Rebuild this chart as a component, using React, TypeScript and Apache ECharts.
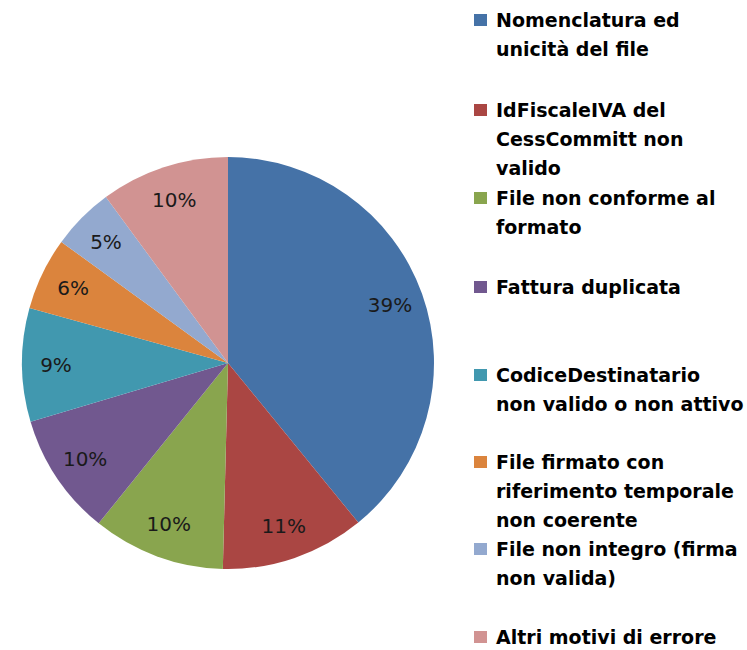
import React, { useEffect, useRef } from "react";
import * as echarts from "echarts";

const categories = [
  "Nomenclatura ed unicità del file",
  "IdFiscaleIVA del CessCommitt non valido",
  "File non conforme al formato",
  "Fattura duplicata",
  "CodiceDestinatario non valido o non attivo",
  "File firmato con riferimento temporale non coerente",
  "File non integro (firma non valida)",
  "Altri motivi di errore",
];

const legendLines = [
  ["Nomenclatura ed", "unicità del file"],
  ["IdFiscaleIVA del", "CessCommitt non", "valido"],
  ["File non conforme al", "formato"],
  ["Fattura duplicata"],
  ["CodiceDestinatario", "non valido o non attivo"],
  ["File firmato con", "riferimento temporale", "non coerente"],
  ["File non integro (firma", "non valida)"],
  ["Altri motivi di errore"],
];

const values = [39.1, 11.3, 10.4, 9.6, 8.9, 5.7, 4.9, 10.1];

const colors = [
  "#4572A7",
  "#AA4643",
  "#89A54E",
  "#71588F",
  "#4198AF",
  "#DB843D",
  "#93A9CF",
  "#D19392",
];

const legendCenters = [20, 110, 198, 287, 375, 462, 549, 637];

export default function App() {
  const ref = useRef<HTMLDivElement>(null);

  useEffect(() => {
    document.body.style.margin = "0";
    if (!ref.current) return;
    const chart = echarts.init(ref.current, undefined, { renderer: "svg" });
    const lh = 29;
    const itemH = 12;
    const legends = categories.map((name, i) => {
      const n = legendLines[i].length;
      const textH = Math.max((2 * n - 1) * lh, itemH);
      const text = "\n".repeat(n - 1) + legendLines[i].join("\n");
      return {
        orient: "vertical",
        left: 474,
        top: legendCenters[i] - textH / 2,
        padding: 0,
        itemWidth: 13,
        itemHeight: itemH,
        icon: "rect",
        selectedMode: false,
        data: [name],
        formatter: () => text,
        textStyle: {
          fontFamily: "DejaVu Sans",
          fontWeight: "bold",
          fontSize: 19,
          color: "#000000",
          lineHeight: lh,
          padding: [0, 0, 0, 4],
        },
      };
    });

    const data = categories.map((name, i) => ({
      name,
      value: values[i],
      itemStyle: { color: colors[i] },
    }));

    chart.setOption({
      animation: false,
      color: colors,
      legend: legends,
      series: [
        {
          type: "pie",
          center: [228, 363],
          radius: [0, 206],
          startAngle: 90,
          clockwise: true,
          avoidLabelOverlap: false,
          silent: true,
          label: { show: false },
          labelLine: { show: false },
          itemStyle: { borderWidth: 0 },
          data,
        },
        {
          type: "pie",
          center: [228, 363],
          radius: [132, 206],
          startAngle: 90,
          clockwise: true,
          avoidLabelOverlap: false,
          silent: true,
          itemStyle: { color: "transparent", borderWidth: 0 },
          label: {
            show: true,
            position: "inside",
            fontFamily: "DejaVu Sans",
            fontSize: 20,
            color: "#1a1a1a",
            formatter: (p: any) => Math.round(p.percent) + "%",
          },
          labelLine: { show: false },
          data: categories.map((name, i) => ({ name, value: values[i] })),
        },
      ],
    });
    return () => chart.dispose();
  }, []);

  return <div ref={ref} style={{ width: 747, height: 650 }} />;
}
